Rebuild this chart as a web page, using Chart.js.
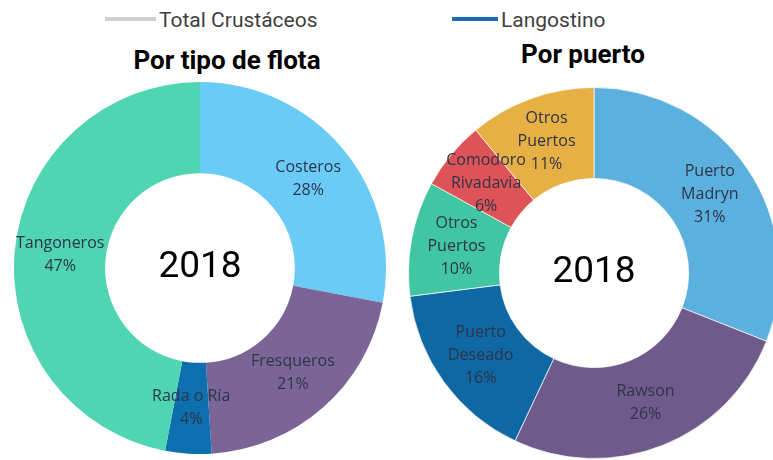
<!DOCTYPE html>
<html>
<head>
<meta charset="utf-8">
<script src="https://cdn.jsdelivr.net/npm/chart.js@4.4.1/dist/chart.umd.min.js"></script>
<style>
  html, body { margin: 0; padding: 0; background: #fff; }
  body { width: 773px; height: 460px; position: relative; overflow: hidden; font-family: Roboto, sans-serif; }
  .legend { position: absolute; top: 7px; font-size: 21px; color: #3f3f3f; line-height: 26px; white-space: nowrap; }
  .legend .sw { display: inline-block; height: 4px; vertical-align: middle; margin-right: 3px; position: relative; top: -2px; }
  .title { position: absolute; font-weight: bold; font-size: 26px; color: #000; white-space: nowrap; transform: translateX(-50%); }
  canvas { position: absolute; }
</style>
</head>
<body>
<div class="legend" style="left:105px"><span class="sw" style="width:51px;background:#d0d0d0"></span>Total Crustáceos</div>
<div class="legend" style="left:452px"><span class="sw" style="width:46px;background:#1f6db0"></span>Langostino</div>
<div class="title" style="left:227px;top:45px">Por tipo de flota</div>
<div class="title" style="left:583px;top:39px">Por puerto</div>
<canvas id="flotaChart" width="372" height="372" style="left:14px;top:82px"></canvas>
<canvas id="puertoChart" width="372" height="372" style="left:408px;top:87px"></canvas>
<script>
// Por tipo de flota
const flotaLabels = ['Costeros', 'Fresqueros', 'Rada o Ría', 'Tangoneros'];
const flotaValues = [28, 21, 4, 47];
const flotaColors = ['#6acbf7', '#7b6597', '#0e6fae', '#4fd5b2'];

// Por puerto
const puertoLabels = [['Puerto', 'Madryn'], ['Rawson'], ['Puerto', 'Deseado'], ['Otros', 'Puertos'], ['Comodoro', 'Rivadavia'], ['Otros', 'Puertos']];
const puertoValues = [31, 26, 16, 10, 6, 11];
const puertoColors = ['#5cb0de', '#6e5a8b', '#0f67a4', '#42c5a3', '#de5358', '#e7b045'];

const centerYear = '2018';

// texto de cada porción: nombre + porcentaje
const sliceLabels = {
    id: 'sliceLabels',
    afterDatasetsDraw(chart) {
        const ctx = chart.ctx;
        const meta = chart.getDatasetMeta(0);
        const ds = chart.data.datasets[0];
        ctx.save();
        ctx.font = '16px "Open Sans", sans-serif';
        ctx.fillStyle = '#2d3547';
        ctx.textAlign = 'center';
        ctx.textBaseline = 'middle';
        meta.data.forEach((arc, i) => {
            const p = arc.getCenterPoint();
            let lines = chart.data.labels[i];
            if (!Array.isArray(lines)) lines = [lines];
            lines = lines.concat([ds.data[i] + '%']);
            const lh = 23;
            const y0 = p.y - (lines.length - 1) * lh / 2;
            lines.forEach((t, k) => ctx.fillText(t, p.x, y0 + k * lh));
        });
        ctx.restore();
    }
};

const centerText = {
    id: 'centerText',
    afterDraw(chart) {
        const a = chart.chartArea;
        const ctx = chart.ctx;
        ctx.save();
        ctx.font = '37px Roboto, sans-serif';
        ctx.fillStyle = '#000';
        ctx.textAlign = 'center';
        ctx.textBaseline = 'middle';
        ctx.fillText(centerYear, (a.left + a.right) / 2, (a.top + a.bottom) / 2);
        ctx.restore();
    }
};

function donutConfig(labels, values, colors, border) {
    return {
        type: 'doughnut',
        data: {
            labels: labels,
            datasets: [{
                data: values,
                backgroundColor: colors,
                borderColor: 'rgba(255,255,255,0.7)',
                borderWidth: border
            }]
        },
        options: {
            responsive: false,
            animation: false,
            cutout: '51%',
            layout: { padding: 0 },
            plugins: {
                legend: { display: false },
                tooltip: { enabled: false }
            }
        },
        plugins: [sliceLabels, centerText]
    };
}

window.onload = function() {
    new Chart(document.getElementById('flotaChart').getContext('2d'), donutConfig(flotaLabels, flotaValues, flotaColors, 0));
    new Chart(document.getElementById('puertoChart').getContext('2d'), donutConfig(puertoLabels, puertoValues, puertoColors, 1));
};
</script>
</body>
</html>
